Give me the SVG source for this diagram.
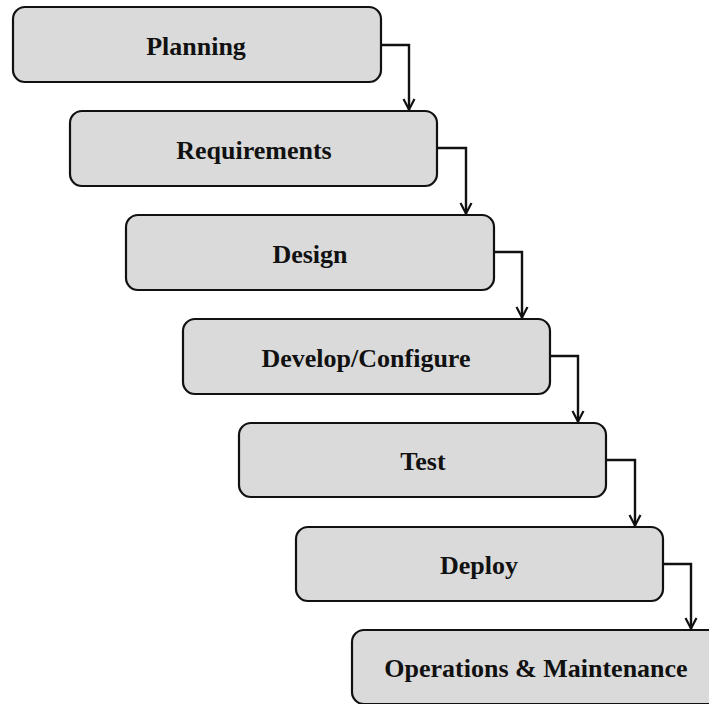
<svg xmlns="http://www.w3.org/2000/svg" width="709" height="704" viewBox="0 0 709 704">
  <defs>
    <marker id="arrow" viewBox="0 0 14 14" refX="13" refY="7" markerWidth="14" markerHeight="14" markerUnits="userSpaceOnUse" orient="auto">
      <path d="M2,1.5 L12.5,7 L2,12.5" fill="none" stroke="#111" stroke-width="2.2"/>
    </marker>
  </defs>
  <style>
    .box { fill: #dadada; stroke: #111; stroke-width: 2.2; }
    .label { font-family: "Liberation Serif", "Times New Roman", serif; font-weight: bold; font-size: 26px; fill: #111; text-anchor: middle; }
    .conn { fill: none; stroke: #111; stroke-width: 2.4; marker-end: url(#arrow); }
  </style>
  <rect width="709" height="704" fill="#fff"/>

  <g id="planning">
    <rect class="box" x="13" y="7" width="368" height="75" rx="12"/>
    <text class="label" x="196" y="55">Planning</text>
  </g>
  <g id="requirements">
    <rect class="box" x="70" y="111" width="367" height="75" rx="12"/>
    <text class="label" x="254" y="159">Requirements</text>
  </g>
  <g id="design">
    <rect class="box" x="126" y="215" width="368" height="75" rx="12"/>
    <text class="label" x="310" y="263">Design</text>
  </g>
  <g id="develop">
    <rect class="box" x="183" y="319" width="367" height="75" rx="12"/>
    <text class="label" x="366" y="367">Develop/Configure</text>
  </g>
  <g id="test">
    <rect class="box" x="239" y="423" width="367" height="74" rx="12"/>
    <text class="label" x="423" y="470">Test</text>
  </g>
  <g id="deploy">
    <rect class="box" x="296" y="527" width="367" height="74" rx="12"/>
    <text class="label" x="479" y="574">Deploy</text>
  </g>
  <g id="operations">
    <rect class="box" x="352" y="630" width="370" height="74" rx="12"/>
    <text class="label" x="536" y="677">Operations &amp; Maintenance</text>
  </g>

  <g id="connectors">
    <path class="conn" d="M381,45 H409 V110"/>
    <path class="conn" d="M437,148 H466 V214"/>
    <path class="conn" d="M494,252 H522 V318"/>
    <path class="conn" d="M550,356 H578 V422"/>
    <path class="conn" d="M606,460 H635 V526"/>
    <path class="conn" d="M663,564 H691 V629"/>
  </g>
</svg>
